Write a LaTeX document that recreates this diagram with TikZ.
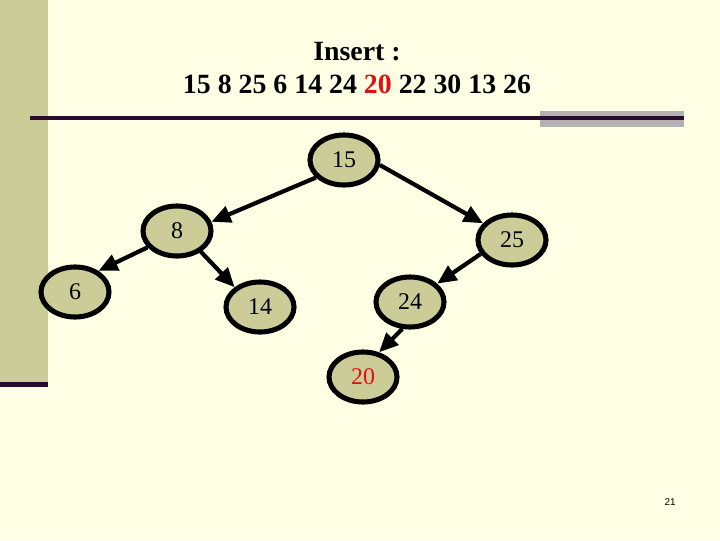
\documentclass[tikz,border=0pt]{standalone}
\usepackage{fontspec}
\setmainfont{Liberation Serif}
\newfontfamily\pagefont{Liberation Sans}
\usetikzlibrary{shapes.geometric,arrows.meta}
\definecolor{slidebg}{HTML}{FFFFE6}
\definecolor{khaki}{HTML}{CCCC99}
\definecolor{darkplum}{HTML}{2B0A2B}
\definecolor{bargray}{HTML}{B2B2B2}
\definecolor{newred}{HTML}{DD1111}

\begin{document}
\begin{tikzpicture}[x=0.025cm,y=-0.025cm,
    key/.style={ellipse,draw=black,line width=3.6pt,fill=khaki,minimum width=1.7cm,
      minimum height=1.25cm,inner sep=0pt,font=\fontsize{17}{20}\selectfont},
    link/.style={line width=3pt,-{Triangle[length=0.48cm,width=0.42cm]}},
    heading/.style={anchor=base,font=\bfseries\fontsize{19.8}{24}\selectfont}]
  \useasboundingbox (0,0) rectangle (720,540);
  \fill[slidebg] (0,0) rectangle (720,540);
  \fill[khaki] (0,0) rectangle (48,382);
  \fill[darkplum] (0,382) rectangle (48,387);
  \fill[bargray] (540,111) rectangle (684,127);
  \fill[darkplum] (30,116) rectangle (684,120);
  % title
  \node[heading] (title) at (357,60) {Insert :};
  \node[heading] (seq) at (357,93) {15 8 25 6 14 24 \textcolor{newred}{20} 22 30 13 26};
  % tree
  \node[key] (n15) at (344,160) {15};
  \node[key] (n8) at (177,231) {8};
  \node[key] (n25) at (512,240) {25};
  \node[key] (n6) at (75,292) {6};
  \node[key] (n14) at (260,307) {14};
  \node[key] (n24) at (410,302) {24};
  \node[key,text=newred] (n20) at (363,377) {20};
  \draw[link] (n15.212) -- (n8.15);
  \draw[link] (n15.-8) -- (n25.150);
  \draw[link] (n8.209) -- (n6.42);
  \draw[link] (n8.-41) -- (n14.142);
  \draw[link] (n25.204) -- (n24.34);
  \draw[link] (n24.-106) -- (n20.57);
  % page number
  \node[font=\pagefont\fontsize{7}{8}\selectfont] (page) at (670,502) {21};
\end{tikzpicture}
\end{document}
